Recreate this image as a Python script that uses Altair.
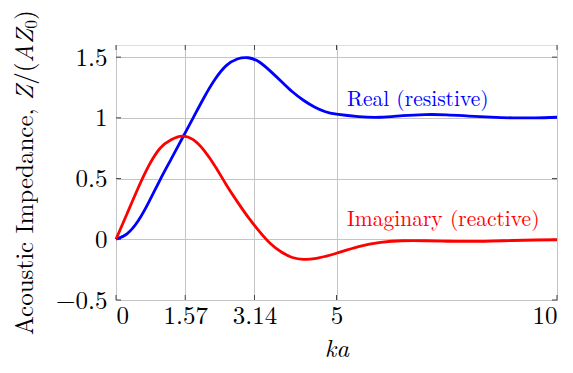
import altair as alt
import pandas as pd

# Normalised acoustic impedance of the radiator versus ka
ka = [0, 0.25, 0.5, 0.75, 1.0, 1.25, 1.5, 1.75, 2.0, 2.25, 2.5, 2.75, 3.0,
      3.25, 3.5, 3.75, 4.0, 4.25, 4.5, 4.75, 5.0, 5.5, 6.0, 6.5, 7.0, 7.5,
      8.0, 8.5, 9.0, 9.5, 10.0]
real_part = [0, 0.045, 0.15, 0.31, 0.49, 0.66, 0.83, 1.00, 1.17, 1.32, 1.43,
             1.485, 1.495, 1.46, 1.385, 1.30, 1.215, 1.145, 1.09, 1.05, 1.03,
             1.01, 1.005, 1.018, 1.027, 1.025, 1.015, 1.006, 1.0, 1.0, 1.005]
imag_part = [0, 0.21, 0.42, 0.61, 0.75, 0.82, 0.85, 0.82, 0.73, 0.60, 0.45,
             0.31, 0.18, 0.065, -0.035, -0.105, -0.15, -0.165, -0.16, -0.14,
             -0.115, -0.06, -0.025, -0.012, -0.012, -0.016, -0.018, -0.015,
             -0.01, -0.006, -0.004]

x_ticks = [0, 1.57, 3.14, 5, 10]
y_ticks = [-0.5, 0, 0.5, 1, 1.5]

series_names = ["Real (resistive)", "Imaginary (reactive)"]
series_colors = ["#0000ff", "#ff0000"]
label_ka = [5.24, 5.24]
label_z = [1.095, 0.11]

# y-axis title pieces: text, italic?, offset along the axis (em), size factor, shift (em)
title_parts = ["Acoustic Impedance,", "Z", "/(", "AZ", "0", ")"]
title_italic = [False, True, False, True, False, False]
title_offset = [0.0, 9.393, 10.006, 10.895, 12.251, 12.601]
title_scale = [1, 1, 1, 1, 0.7, 1]
title_shift = [0, 0, 0, 0, 0.16, 0]

W, H = 441, 255
FONT = "Latin Modern Roman"
FS = 25

rows = []
for k, r, i in zip(ka, real_part, imag_part):
    rows.append({"ka": k, "z": r, "series": series_names[0]})
    rows.append({"ka": k, "z": i, "series": series_names[1]})
curves = pd.DataFrame(rows)

labels = pd.DataFrame({"ka": label_ka, "z": label_z, "series": series_names})
xt = pd.DataFrame({"ka": x_ticks})
yt = pd.DataFrame({"z": y_ticks})

x_scale = alt.Scale(domain=[0, 10], nice=False, zero=False)
y_scale = alt.Scale(domain=[-0.5, 1.6], nice=False, zero=False)
color = alt.Color("series:N", scale=alt.Scale(domain=series_names, range=series_colors), legend=None)

x_axis = alt.Axis(values=x_ticks, format=".3~g", grid=True, gridColor="#c4c4c4", gridWidth=1,
                  ticks=False, domain=False, labelFont=FONT, labelFontSize=FS, labelColor="black",
                  labelPadding=3, title="ka", titleFont=FONT, titleFontSize=FS,
                  titleFontStyle="italic", titleFontWeight="normal", titleColor="black",
                  titlePadding=8)
y_axis = alt.Axis(values=y_ticks, format=".3~g", grid=True, gridColor="#c4c4c4", gridWidth=1,
                  ticks=False, domain=False, labelFont=FONT, labelFontSize=FS, labelColor="black",
                  labelPadding=9, title=None)

base_lines = alt.Chart(curves).mark_line(strokeWidth=2.8, interpolate="natural").encode(
    x=alt.X("ka:Q", scale=x_scale, axis=x_axis),
    y=alt.Y("z:Q", scale=y_scale, axis=y_axis),
    color=color,
    detail="series:N",
)

text = alt.Chart(labels).mark_text(font=FONT, fontSize=21.5, align="left", baseline="alphabetic").encode(
    x=alt.X("ka:Q", scale=x_scale),
    y=alt.Y("z:Q", scale=y_scale),
    text="series:N",
    color=color,
)

# rotated y title, assembled from roman and italic pieces
title_base_x = 33 - 116
title_start_y = 335 - 45
title_layers = []
for part, it, off, sc, sh in zip(title_parts, title_italic, title_offset, title_scale, title_shift):
    d = pd.DataFrame({"t": [part]})
    title_layers.append(
        alt.Chart(d).mark_text(font=FONT, fontSize=FS * sc, fontStyle="italic" if it else "normal",
                               angle=270, align="left", baseline="alphabetic", color="black").encode(
            text="t:N",
            x=alt.value(title_base_x + sh * FS),
            y=alt.value(title_start_y - off * FS),
        )
    )

tick_color = "#444444"
bottom_ticks = alt.Chart(xt).mark_rule(color=tick_color, strokeWidth=1).encode(
    x=alt.X("ka:Q", scale=x_scale), y=alt.value(H), y2=alt.value(H - 5))
top_ticks = alt.Chart(xt).mark_rule(color=tick_color, strokeWidth=1).encode(
    x=alt.X("ka:Q", scale=x_scale), y=alt.value(0), y2=alt.value(5))
left_ticks = alt.Chart(yt).mark_rule(color=tick_color, strokeWidth=1).encode(
    y=alt.Y("z:Q", scale=y_scale), x=alt.value(0), x2=alt.value(5))
right_ticks = alt.Chart(yt).mark_rule(color=tick_color, strokeWidth=1).encode(
    y=alt.Y("z:Q", scale=y_scale), x=alt.value(W), x2=alt.value(W - 5))

chart = alt.layer(bottom_ticks, top_ticks, left_ticks, right_ticks, base_lines, text,
                  *title_layers).properties(
    width=W, height=H,
    autosize=alt.AutoSizeParams(type="none"),
    padding={"left": 116, "top": 45, "right": 16, "bottom": 73},
).configure_view(stroke="#333333", strokeWidth=1.2).configure(background="white")

chart.save("out.html", embed_options={"renderer": "svg", "actions": False})
